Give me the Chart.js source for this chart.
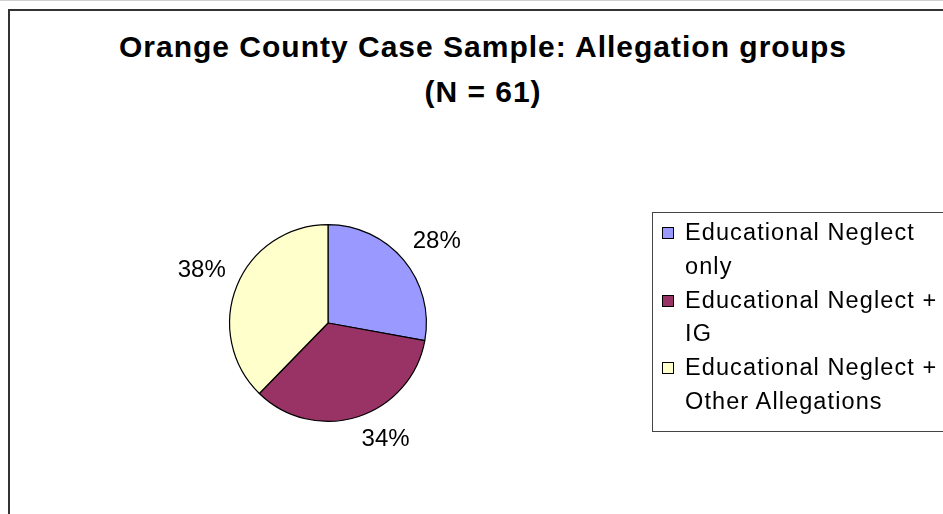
<!DOCTYPE html>
<html>
<head>
<meta charset="utf-8">
<script src="https://cdn.jsdelivr.net/npm/chart.js@4"></script>
<style>
  html, body { margin: 0; padding: 0; background: #fff; overflow: hidden; }
  body { width: 943px; height: 514px; position: relative; font-family: "Liberation Sans", Arial, sans-serif; border-top: 1px solid #d0d0d0; box-sizing: border-box; }
  #frame { position: absolute; left: 8px; top: 8px; width: 1000px; height: 600px; border: 2px solid #333; }
  #title { position: absolute; left: 0; top: 23px; width: 966px; text-align: center; font-weight: bold; font-size: 30px; line-height: 45px; letter-spacing: 1px; color: #000; }
  #wrap { position: absolute; left: 0; top: 0; width: 943px; height: 514px; }
  #legend { position: absolute; left: 652px; top: 211px; width: 330px; height: 220px; border: 1px solid #444; box-sizing: border-box; padding-top: 3px; }
  .item { position: relative; padding-left: 32px; font-size: 23.5px; line-height: 33.8px; letter-spacing: 1.1px; color: #000; width: 262px; }
  .box { position: absolute; left: 9px; top: 11px; width: 10px; height: 10px; border: 1px solid #000; }
</style>
</head>
<body>
<div id="frame"></div>
<div id="title">Orange County Case Sample: Allegation groups<br>(N = 61)</div>
<div id="wrap"><canvas id="chart"></canvas></div>
<div id="legend"></div>
<script>
// allegation groups, case counts out of N = 61
const categories = ['Educational Neglect only', 'Educational Neglect + IG', 'Educational Neglect + Other Allegations'];
const counts = [17, 21, 23];
const sliceColors = ['#9999FF', '#993366', '#FFFFCC'];

const total = counts.reduce((a, b) => a + b, 0);

// percentage labels outside each slice: the corner of the label box
// nearest the pie sits just beyond the rim on the slice's mid angle
const outsideLabels = {
  id: 'outsideLabels',
  afterDatasetsDraw(chart) {
    const ctx = chart.ctx;
    const meta = chart.getDatasetMeta(0);
    ctx.save();
    ctx.font = '24px "Liberation Sans", Arial, sans-serif';
    ctx.fillStyle = '#000';
    ctx.textAlign = 'center';
    ctx.textBaseline = 'middle';
    meta.data.forEach((arc, i) => {
      const p = arc.getProps(['x', 'y', 'startAngle', 'endAngle', 'outerRadius'], true);
      const mid = (p.startAngle + p.endAngle) / 2;
      const d = p.outerRadius + 12;
      const pct = Math.round(counts[i] / total * 100) + '%';
      const w = ctx.measureText(pct).width;
      const h = 22;
      const ax = p.x + Math.cos(mid) * d;
      const ay = p.y + Math.sin(mid) * d;
      const cx = ax + (Math.cos(mid) >= 0 ? w / 2 : -w / 2);
      const cy = ay + (Math.sin(mid) >= 0 ? h / 2 : -h / 2);
      ctx.fillText(pct, cx, cy);
    });
    ctx.restore();
  }
};

new Chart(document.getElementById('chart'), {
  type: 'pie',
  data: {
    labels: categories,
    datasets: [{
      data: counts,
      backgroundColor: sliceColors,
      borderColor: '#000',
      borderWidth: 1.2
    }]
  },
  options: {
    responsive: true,
    maintainAspectRatio: false,
    animation: false,
    layout: { padding: { left: 229, right: 516, top: 223, bottom: 93 } },
    plugins: {
      legend: { display: false },
      tooltip: { enabled: false }
    }
  },
  plugins: [outsideLabels]
});

// legend box, built from the same arrays
const legend = document.getElementById('legend');
categories.forEach((name, i) => {
  const item = document.createElement('div');
  item.className = 'item';
  const box = document.createElement('span');
  box.className = 'box';
  box.style.background = sliceColors[i];
  item.appendChild(box);
  item.appendChild(document.createTextNode(name));
  legend.appendChild(item);
});
</script>
</body>
</html>
